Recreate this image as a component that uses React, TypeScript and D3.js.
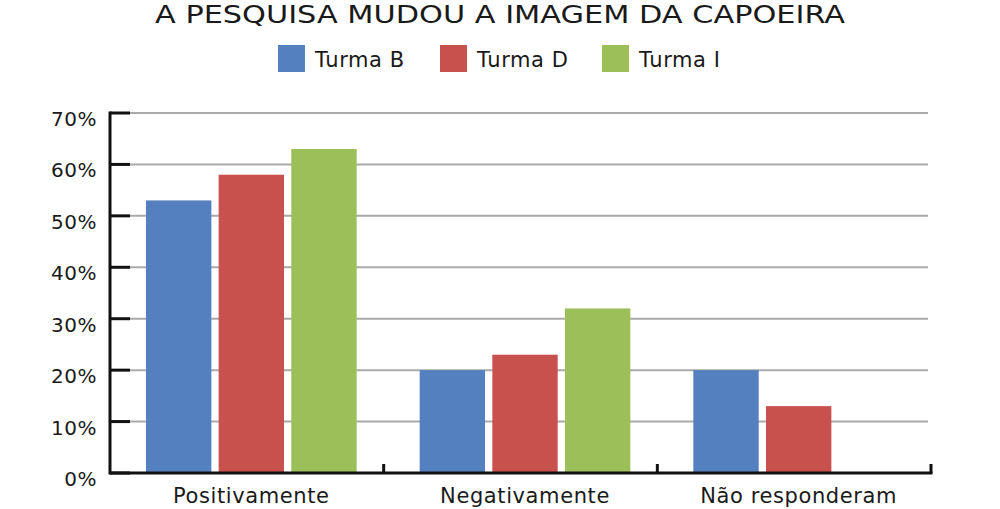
import React from "react";
import * as d3 from "d3";

const categories = ["Positivamente", "Negativamente", "Não responderam"];
const series = ["Turma B", "Turma D", "Turma I"];
const turmaB = [53, 20, 20];
const turmaD = [58, 23, 13];
const turmaI = [63, 32, 0];
const yTicks = [0, 10, 20, 30, 40, 50, 60, 70];
const colors = ["#5580C0", "#C8514E", "#9DBF59"];

const values = [turmaB, turmaD, turmaI];
const font = "'DejaVu Sans', sans-serif";

const App = () => {
  const width = 1000;
  const height = 509;
  const left = 110;
  const right = 931;
  const top = 113;
  const bottom = 473;

  const y = d3.scaleLinear().domain([0, 70]).range([bottom, top]);
  const x0 = d3.scaleBand().domain(categories).range([left, right]).padding(0);
  const bw = x0.bandwidth();
  const x1 = d3
    .scaleBand()
    .domain(series)
    .range([36, bw - 27])
    .paddingInner(0.1)
    .paddingOuter(0);

  const groupCenter = (c) => x0(c) + 36 + (bw - 63) / 2;

  return (
    <svg
      width={width}
      height={height}
      style={{ position: "absolute", left: 0, top: 0, background: "#fff" }}
    >
      <text
        x={500}
        y={23}
        textAnchor="middle"
        fontFamily={font}
        fontSize={25}
        fill="#1a1a1a"
        textLength={690}
        lengthAdjust="spacingAndGlyphs"
      >
        A PESQUISA MUDOU A IMAGEM DA CAPOEIRA
      </text>

      {/* legenda */}
      {series.map((s, i) => (
        <g key={s} transform={`translate(${278 + i * 162}, 45)`}>
          <rect width={27} height={27} fill={colors[i]} />
          <text
            x={37}
            y={22}
            fontFamily={font}
            fontSize={21}
            letterSpacing={0.6}
            fill="#1a1a1a"
          >
            {s}
          </text>
        </g>
      ))}

      {/* grade */}
      {yTicks.filter((t) => t > 0).map((t) => (
        <line
          key={t}
          x1={left + 20}
          x2={928}
          y1={y(t)}
          y2={y(t)}
          stroke="#aaaaaa"
          strokeWidth={2}
        />
      ))}

      {/* barras */}
      {categories.map((c, ci) => (
        <g key={c} transform={`translate(${x0(c)},0)`}>
          {series.map((s, si) =>
            values[si][ci] > 0 ? (
              <rect
                key={s}
                x={x1(s)}
                y={y(values[si][ci])}
                width={x1.bandwidth()}
                height={bottom - y(values[si][ci])}
                fill={colors[si]}
              />
            ) : null
          )}
        </g>
      ))}

      {/* eixo y */}
      <line x1={left} x2={left} y1={top - 1.5} y2={bottom + 1.5} stroke="#111" strokeWidth={3} />
      {yTicks.map((t) => (
        <g key={t}>
          <line x1={left} x2={left + 20} y1={y(t)} y2={y(t)} stroke="#111" strokeWidth={3} />
          <text
            x={97}
            y={y(t) + 13}
            textAnchor="end"
            fontFamily={font}
            fontSize={20}
            letterSpacing={0.5}
            fill="#1a1a1a"
          >
            {t}%
          </text>
        </g>
      ))}

      {/* eixo x */}
      <line x1={left} x2={right + 1.5} y1={bottom} y2={bottom} stroke="#111" strokeWidth={3} />
      {categories.map((c) => (
        <g key={c}>
          <line
            x1={x0(c) + bw}
            x2={x0(c) + bw}
            y1={bottom}
            y2={bottom - 9}
            stroke="#111"
            strokeWidth={3}
          />
          <text
            x={groupCenter(c)}
            y={503}
            textAnchor="middle"
            fontFamily={font}
            fontSize={21}
            letterSpacing={0.6}
            fill="#1a1a1a"
          >
            {c}
          </text>
        </g>
      ))}
    </svg>
  );
};

export default App;
